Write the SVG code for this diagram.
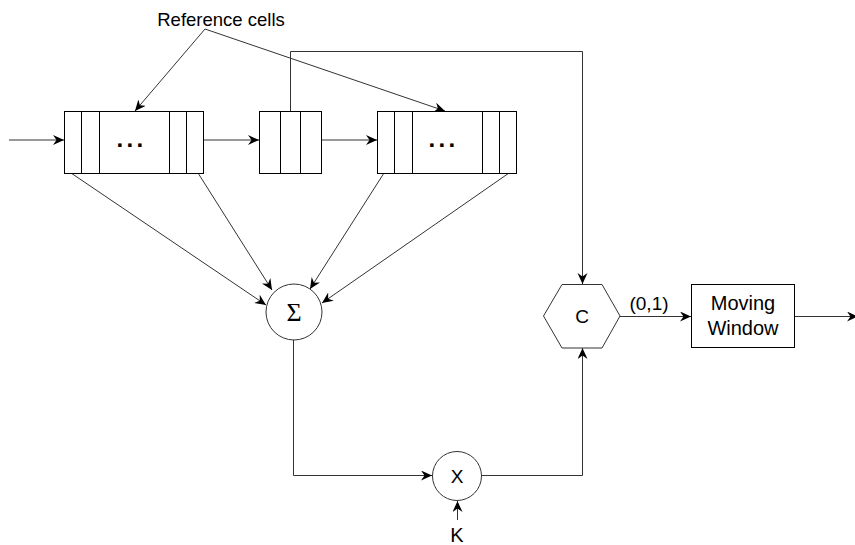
<svg xmlns="http://www.w3.org/2000/svg" width="855" height="545" viewBox="0 0 855 545">
<defs>
<marker id="arr" markerUnits="userSpaceOnUse" markerWidth="13" markerHeight="11" refX="11" refY="5" orient="auto">
<path d="M0,0 L11,5 L0,10 L3.5,5 z" fill="#000"/>
</marker>
</defs>
<style>
.box{fill:#fff;stroke:#000;stroke-width:1}
.div{stroke:#000;stroke-width:1;fill:none}
.con{fill:none;stroke:#333;stroke-width:1;marker-end:url(#arr)}
.lbl{font-family:"Liberation Sans",Arial,sans-serif;fill:#000;text-anchor:middle}
.dots{font-family:"Liberation Sans",Arial,sans-serif;font-weight:bold;font-size:24px;letter-spacing:3.3px;fill:#000}
</style>
<rect width="855" height="545" fill="#fff"/>
<g id="connectors">
<path class="con" d="M9,140 H64"/>
<path class="con" d="M204,140 H259"/>
<path class="con" d="M321.5,140 H377"/>
<path class="con" d="M205,29 L135,111"/>
<path class="con" d="M205,29 L445,111"/>
<path class="con" d="M290.5,111 V51.5 H582.5 V284"/>
<path class="con" d="M71,173 L266,305"/>
<path class="con" d="M198,173 L272,290"/>
<path class="con" d="M384,173 L310,289"/>
<path class="con" d="M509,173 L322,303"/>
<path class="con" d="M293.5,340 V475.5 H432"/>
<path class="con" d="M481,475.5 H582.5 V348"/>
<path class="con" d="M457.5,520 V501"/>
<path class="con" d="M620,316.5 H691"/>
<path class="con" d="M795,316.5 H858"/>
</g>
<g id="label-ref">
<text class="lbl" x="221" y="26" font-size="18.5">Reference cells</text>
</g>
<g id="block-left">
<rect class="box" x="64.5" y="111.5" width="139" height="62"/>
<path class="div" d="M81.5,111.5 V173.5 M99.5,111.5 V173.5 M169.5,111.5 V173.5 M186.5,111.5 V173.5"/>
<text class="dots" x="116.5" y="147">...</text>
</g>
<g id="block-mid">
<rect class="box" x="259.5" y="111.5" width="62" height="62"/>
<path class="div" d="M280.5,111.5 V173.5 M300.5,111.5 V173.5"/>
</g>
<g id="block-right">
<rect class="box" x="377.5" y="111.5" width="139" height="62"/>
<path class="div" d="M394.5,111.5 V173.5 M412.5,111.5 V173.5 M482.5,111.5 V173.5 M499.5,111.5 V173.5"/>
<text class="dots" x="428.5" y="147">...</text>
</g>
<g id="sum">
<circle cx="294" cy="312" r="28" fill="#fff" stroke="#333"/>
<text x="294" y="321" font-family="Liberation Serif,serif" font-size="26" text-anchor="middle">Σ</text>
</g>
<g id="mult">
<circle cx="457" cy="476" r="24.5" fill="#fff" stroke="#333"/>
<text class="lbl" x="457" y="483" font-size="19">X</text>
</g>
<g id="k-label">
<text class="lbl" x="457" y="542" font-size="20">K</text>
</g>
<g id="compare">
<polygon points="543.5,316 562,284.5 602,284.5 620,316 602,348 562,348" fill="#fff" stroke="#333"/>
<text class="lbl" x="582" y="323" font-size="19">C</text>
</g>
<g id="label-01">
<text class="lbl" x="649" y="310" font-size="19">(0,1)</text>
</g>
<g id="moving-window">
<rect class="box" x="691.5" y="284.5" width="103" height="63"/>
<text class="lbl" x="743" y="310" font-size="20">Moving</text>
<text class="lbl" x="743" y="335" font-size="20">Window</text>
</g>
</svg>
